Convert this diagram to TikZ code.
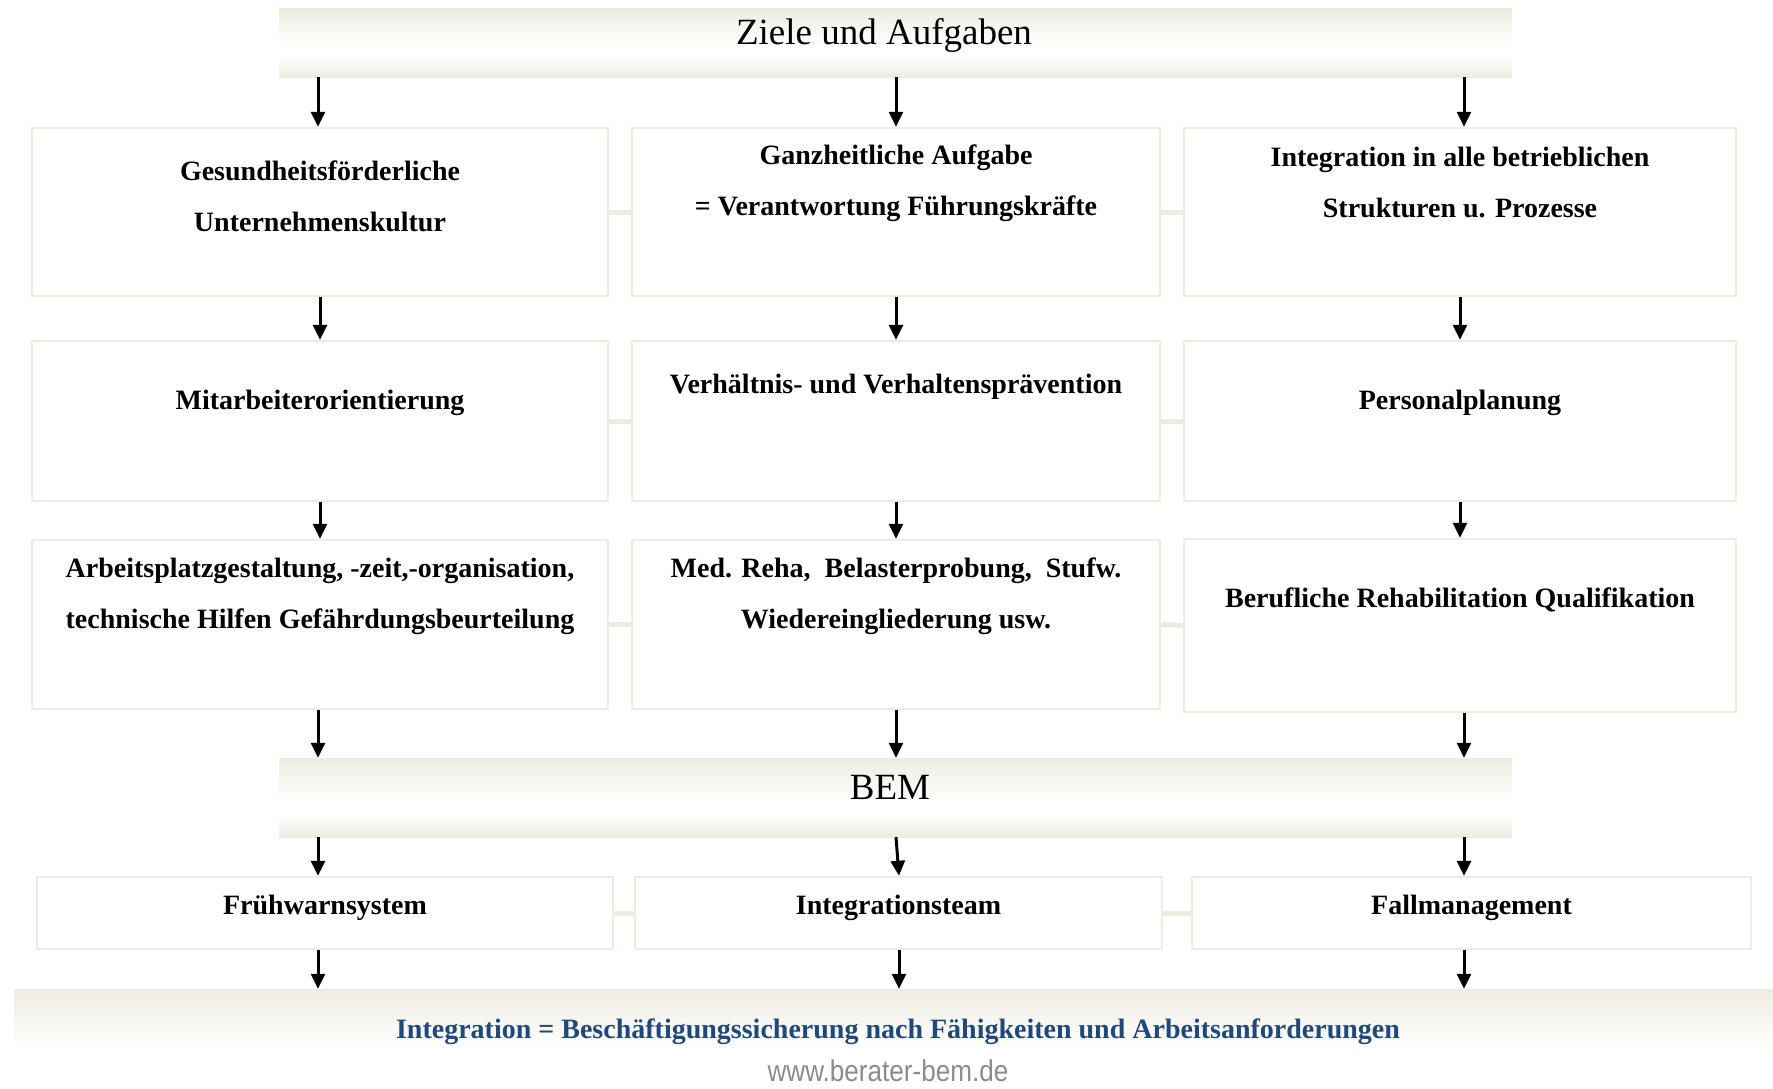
\documentclass[tikz,border=0pt]{standalone}
\usepackage{fontspec}
\setmainfont{Liberation Serif}
\newfontfamily\urlfont{Liberation Sans}
\usetikzlibrary{arrows.meta,calc}
\definecolor{bz}{HTML}{EEECE1}
\definecolor{navy}{HTML}{1F497D}
\definecolor{urlgray}{HTML}{8C8C8C}
\pgfdeclareverticalshading{barshade}{100bp}{color(0bp)=(bz); color(25bp)=(bz); color(40bp)=(white); color(47bp)=(white); color(75bp)=(bz); color(100bp)=(bz)}
\pgfdeclareverticalshading{footshade}{100bp}{color(0bp)=(white); color(25bp)=(white); color(45bp)=(white); color(75bp)=(bz); color(100bp)=(bz)}
\tikzset{
  box/.style={draw=bz, line width=2.5pt, fill=white, inner sep=0pt},
  bar/.style={shade, shading=barshade, inner sep=0pt},
  lbl/.style={font=\fontsize{28}{51}\selectfont\bfseries, align=center, inner sep=0pt},
  ttl/.style={font=\fontsize{37}{40}\selectfont, inner sep=0pt},
  conn/.style={draw=bz, line width=5pt},
  arr/.style={line width=3pt, -{Triangle[width=14pt,length=15pt]}}
}
\begin{document}
\begin{tikzpicture}[x=1pt,y=-1pt]
\useasboundingbox (0,0) rectangle (1773,1088);
% bars
\node[bar, minimum width=1233pt, minimum height=69pt] (top) at (895.5,42.5) {};
\node[bar, minimum width=1233pt, minimum height=79pt] (bem) at (895.5,797.5) {};
\node[shade, shading=footshade, inner sep=0pt, minimum width=1759pt, minimum height=99pt] (foot) at (893.5,1038.5) {};
% boxes
\node[box, minimum width=576pt, minimum height=168pt] (b11) at (320,212) {};
\node[box, minimum width=528pt, minimum height=168pt] (b12) at (896,212) {};
\node[box, minimum width=552pt, minimum height=168pt] (b13) at (1460,212) {};
\node[box, minimum width=576pt, minimum height=160pt] (b21) at (320,421) {};
\node[box, minimum width=528pt, minimum height=160pt] (b22) at (896,421) {};
\node[box, minimum width=552pt, minimum height=160pt] (b23) at (1460,421) {};
\node[box, minimum width=576pt, minimum height=169pt] (b31) at (320,624.5) {};
\node[box, minimum width=528pt, minimum height=169pt] (b32) at (896,624.5) {};
\node[box, minimum width=552pt, minimum height=173pt] (b33) at (1460,625.5) {};
\node[box, minimum width=576pt, minimum height=72pt] (b41) at (325,913) {};
\node[box, minimum width=527pt, minimum height=72pt] (b42) at (898.5,913) {};
\node[box, minimum width=559pt, minimum height=72pt] (b43) at (1471.5,913) {};
% connectors between boxes
\draw[conn] (b11.east) -- (b12.west);
\draw[conn] (b12.east) -- (b13.west);
\draw[conn] (b21.east) -- (b22.west);
\draw[conn] (b22.east) -- (b23.west);
\draw[conn] (b31.east) -- (b32.west);
\draw[conn] (b32.east) -- (b33.west);
\draw[conn] (b41.east) -- (b42.west);
\draw[conn] (b42.east) -- (b43.west);
% texts
\node[ttl] (ttop) at (884,35) {Ziele und Aufgaben};
\node[ttl] (tbem) at (890,787) {BEM};
\node[lbl] (t11) at (320,196) {Gesundheitsförderliche\\Unternehmenskultur};
\node[lbl] (t12) at (896,183) {Ganzheitliche Aufgabe\\= Verantwortung Führungskräfte};
\node[lbl] (t13) at (1460,182) {Integration in alle betrieblichen\\Strukturen u. Prozesse};
\node[lbl] (t21) at (320,403) {Mitarbeiterorientierung};
\node[lbl] (t22) at (896,387) {Verhältnis- und Verhaltensprävention};
\node[lbl] (t23) at (1460,403) {Personalplanung};
\node[lbl] (t31) at (320,596) {Arbeitsplatzgestaltung, -zeit,-organisation,\\technische Hilfen Gefährdungsbeurteilung};
\node[lbl] (t32) at (896,596) {Med. Reha,\ \ Belasterprobung,\ \ Stufw.\\Wiedereingliederung usw.};
\node[lbl] (t33) at (1460,600) {Berufliche Rehabilitation Qualifikation};
\node[lbl] (t41) at (325,908) {Frühwarnsystem};
\node[lbl] (t42) at (898.5,908) {Integrationsteam};
\node[lbl] (t43) at (1471.5,908) {Fallmanagement};
\node[lbl, text=navy] (tfoot) at (898,1032) {Integration = Beschäftigungssicherung nach Fähigkeiten und Arbeitsanforderungen};
\node[inner sep=0pt, text=urlgray] (turl) at (888,1071) {\scalebox{0.87}[1]{\urlfont\fontsize{30}{30}\selectfont www.berater-bem.de}};
% arrow columns
\coordinate (c1) at (318,0);
\coordinate (c1b) at (320,0);
\coordinate (c2) at (896,0);
\coordinate (c2b) at (899,0);
\coordinate (c3) at (1464,0);
\coordinate (c3b) at (1460,0);
% arrows
\draw[arr] (top.south -| c1) -- (b11.north -| c1);
\draw[arr] (top.south -| c2) -- (b12.north -| c2);
\draw[arr] (top.south -| c3) -- (b13.north -| c3);
\draw[arr] (b11.south -| c1b) -- (b21.north -| c1b);
\draw[arr] (b12.south -| c2) -- (b22.north -| c2);
\draw[arr] (b13.south -| c3b) -- (b23.north -| c3b);
\draw[arr] (b21.south -| c1b) -- (b31.north -| c1b);
\draw[arr] (b22.south -| c2) -- (b32.north -| c2);
\draw[arr] (b23.south -| c3b) -- (b33.north -| c3b);
\draw[arr] (b31.south -| c1) -- (bem.north -| c1);
\draw[arr] (b32.south -| c2) -- (bem.north -| c2);
\draw[arr] (b33.south -| c3) -- (bem.north -| c3);
\draw[arr] (bem.south -| c1) -- (b41.north -| c1);
\draw[arr] (bem.south -| c2) -- (b42.north -| c2b);
\draw[arr] (bem.south -| c3) -- (b43.north -| c3);
\draw[arr] (b41.south -| c1) -- (foot.north -| c1);
\draw[arr] (b42.south -| c2b) -- (foot.north -| c2b);
\draw[arr] (b43.south -| c3) -- (foot.north -| c3);
\end{tikzpicture}
\end{document}
